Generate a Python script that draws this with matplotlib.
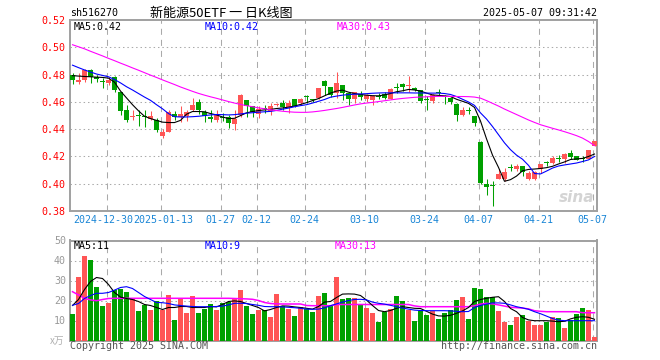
import matplotlib
matplotlib.use('Agg')
import matplotlib.pyplot as plt
import matplotlib.transforms as mtransforms
import numpy as np
import pandas as pd

# trading days shown (exchange holidays dropped)
holidays = ['2025-01-01', '2025-01-28', '2025-01-29', '2025-01-30', '2025-01-31',
            '2025-02-03', '2025-02-04', '2025-04-04', '2025-05-01', '2025-05-02', '2025-05-05']
dates = [d.strftime('%Y-%m-%d') for d in pd.bdate_range('2024-12-20', '2025-05-07')
         if d.strftime('%Y-%m-%d') not in holidays]

tick_dates = ['2024-12-30', '2025-01-13', '2025-01-27', '2025-02-12', '2025-02-24',
              '2025-03-10', '2025-03-24', '2025-04-07', '2025-04-21', '2025-05-07']
tick_labels = ['2024-12-30', '2025-01-13', '01-27', '02-12', '02-24',
               '03-10', '03-24', '04-07', '04-21', '05-07']

opens = [.4800, .4743, .4758, .4837, .4780, .4746, .4737, .4785, .4675, .4543,
         .4489, .4496, .4494, .4474, .4469, .4351, .4383, .4513, .4491, .4499,
         .4543, .4601, .4526, .4493, .4469, .4490, .4488, .4439, .4506, .4616,
         .4572, .4513, .4548, .4535, .4577, .4596, .4562, .4621, .4591, .4637,
         .4621, .4628, .4756, .4709, .4665, .4726, .4665, .4621, .4660, .4625,
         .4615, .4640, .4655, .4623, .4705, .4734, .4714, .4702, .4687, .4623,
         .4604, .4666, .4640, .4630, .4587, .4506, .4540, .4499, .4308, .4000,
         .3984, .4037, .4032, .4114, .4111, .4130, .4032, .4037, .4106, .4151,
         .4150, .4186, .4179, .4224, .4200, .4181, .4185, .4274]
highs = [.4812, .4813, .4842, .4840, .4800, .4777, .4785, .4790, .4675, .4579,
         .4543, .4543, .4540, .4535, .4481, .4400, .4538, .4535, .4570, .4540,
         .4630, .4620, .4543, .4543, .4543, .4516, .4506, .4543, .4655, .4618,
         .4574, .4567, .4579, .4596, .4590, .4616, .4616, .4623, .4626, .4653,
         .4625, .4706, .4758, .4711, .4817, .4728, .4670, .4675, .4680, .4660,
         .4650, .4665, .4670, .4700, .4738, .4740, .4787, .4707, .4690, .4641,
         .4658, .4694, .4650, .4640, .4590, .4563, .4563, .4500, .4310, .4032,
         .4019, .4111, .4119, .4148, .4143, .4131, .4093, .4096, .4148, .4167,
         .4200, .4210, .4224, .4249, .4202, .4200, .4247, .4311]
lows = [.4731, .4731, .4750, .4740, .4745, .4702, .4728, .4674, .4508, .4454,
        .4468, .4427, .4418, .4465, .4376, .4334, .4376, .4465, .4455, .4458,
        .4531, .4513, .4453, .4451, .4451, .4457, .4407, .4395, .4493, .4493,
        .4488, .4481, .4518, .4506, .4567, .4543, .4518, .4562, .4579, .4591,
        .4600, .4621, .4653, .4640, .4628, .4616, .4580, .4596, .4611, .4600,
        .4580, .4620, .4620, .4620, .4667, .4680, .4670, .4680, .4591, .4540,
        .4591, .4653, .4586, .4586, .4464, .4498, .4513, .4422, .4000, .3921,
        .3839, .4032, .4019, .4093, .4093, .4056, .4027, .4027, .4081, .4130,
        .4143, .4156, .4150, .4180, .4175, .4156, .4182, .4274]
closes = [.4758, .4758, .4837, .4785, .4766, .4744, .4758, .4685, .4535, .4469,
          .4499, .4494, .4490, .4494, .4391, .4383, .4523, .4491, .4513, .4523,
          .4579, .4543, .4494, .4474, .4506, .4483, .4444, .4474, .4653, .4567,
          .4525, .4547, .4546, .4572, .4580, .4562, .4596, .4574, .4621, .4635,
          .4612, .4704, .4714, .4653, .4738, .4665, .4620, .4670, .4640, .4650,
          .4645, .4637, .4628, .4697, .4702, .4707, .4717, .4687, .4604, .4616,
          .4653, .4663, .4633, .4598, .4501, .4543, .4536, .4445, .4002, .3978,
          .3980, .4074, .4086, .4112, .4128, .4089, .4081, .4086, .4148, .4149,
          .4187, .4184, .4217, .4193, .4175, .4179, .4247, .4311]

ma5 = [.4793, .4790, .4787, .4785, .4782, .4780, .4775, .4745, .4680, .4630,
       .4580, .4535, .4495, .4478, .4465, .4452, .4449, .4449, .4465, .4510,
       .4530, .4530, .4528, .4515, .4505, .4490, .4478, .4480, .4500, .4520,
       .4530, .4537, .4542, .4545, .4552, .4556, .4562, .4570, .4582, .4595,
       .4610, .4625, .4645, .4665, .4680, .4687, .4672, .4662, .4655, .4650,
       .4646, .4645, .4652, .4662, .4675, .4682, .4692, .4688, .4680, .4665,
       .4652, .4648, .4645, .4640, .4620, .4605, .4590, .4560, .4460, .4330,
       .4210, .4120, .4018, .4030, .4056, .4095, .4105, .4108, .4112, .4118,
       .4128, .4145, .4160, .4178, .4182, .4186, .4200, .4218]
ma10 = [.4870, .4852, .4835, .4820, .4805, .4795, .4785, .4765, .4740, .4712,
        .4688, .4662, .4636, .4612, .4580, .4550, .4515, .4492, .4490, .4490,
        .4492, .4495, .4500, .4505, .4508, .4507, .4505, .4507, .4512, .4518,
        .4521, .4525, .4528, .4531, .4538, .4547, .4555, .4565, .4573, .4580,
        .4592, .4605, .4618, .4635, .4643, .4650, .4654, .4657, .4659, .4661,
        .4664, .4666, .4667, .4667, .4667, .4667, .4667, .4666, .4666, .4665,
        .4665, .4665, .4662, .4655, .4640, .4620, .4600, .4575, .4520, .4475,
        .4420, .4360, .4300, .4250, .4210, .4180, .4135, .4075, .4072, .4093,
        .4115, .4130, .4138, .4145, .4152, .4163, .4175, .4200]
ma30 = [.5020, .5005, .4990, .4972, .4955, .4938, .4920, .4903, .4885, .4868,
        .4850, .4833, .4815, .4797, .4780, .4762, .4745, .4728, .4710, .4694,
        .4678, .4663, .4650, .4638, .4627, .4615, .4603, .4592, .4582, .4573,
        .4565, .4557, .4550, .4543, .4537, .4532, .4528, .4525, .4524, .4524,
        .4527, .4532, .4538, .4545, .4552, .4560, .4569, .4578, .4586, .4592,
        .4597, .4603, .4609, .4615, .4621, .4626, .4630, .4634, .4636, .4638,
        .4640, .4641, .4641, .4641, .4640, .4640, .4639, .4636, .4628, .4610,
        .4590, .4570, .4548, .4528, .4508, .4488, .4468, .4450, .4433, .4420,
        .4407, .4395, .4382, .4368, .4353, .4335, .4310, .4280]

# volume in 万 (10k)
volume = [13.2, 31.8, 42.2, 40.2, 26.7, 17.2, 18.7, 25.2, 25.7, 24.2,
          21.2, 14.7, 17.7, 15.2, 19.7, 15.2, 22.7, 10.2, 20.7, 13.7,
          22.2, 13.7, 15.7, 18.2, 15.2, 18.7, 19.2, 20.7, 25.2, 17.2,
          13.2, 15.2, 15.2, 11.7, 23.2, 17.2, 15.7, 12.2, 16.7, 15.7,
          14.2, 22.2, 23.7, 18.0, 31.8, 20.8, 21.3, 21.3, 18.3, 16.3,
          13.8, 9.3, 14.3, 15.8, 22.3, 19.8, 15.3, 9.8, 14.8, 12.8,
          14.8, 10.8, 13.8, 15.3, 20.3, 21.8, 10.8, 26.3, 25.8, 21.8,
          21.8, 14.8, 9.3, 7.8, 11.8, 12.8, 9.8, 7.8, 7.8, 9.3,
          11.8, 11.3, 6.3, 10.3, 13.3, 16.3, 15.3, 1.8]
vma5 = [17.5, 20.5, 25.5, 29.5, 31.5, 31.0, 28.0, 24.0, 21.7, 21.0,
        20.5, 19.5, 18.0, 17.5, 16.5, 15.5, 16.5, 16.5, 17.0, 17.0,
        16.5, 16.5, 16.5, 17.0, 16.8, 18.0, 19.5, 19.8, 19.5, 18.5,
        17.5, 16.5, 14.8, 15.5, 16.5, 17.3, 17.2, 16.8, 16.5, 16.1,
        15.7, 17.0, 19.2, 19.5, 21.5, 23.2, 23.3, 23.2, 22.5, 20.2,
        17.5, 15.0, 14.4, 15.0, 16.1, 16.9, 16.5, 16.1, 16.0, 14.6,
        13.2, 12.3, 12.2, 12.6, 13.6, 14.8, 16.5, 19.5, 20.5, 21.1,
        21.6, 21.9, 19.5, 16.0, 14.4, 11.5, 10.3, 9.9, 9.9, 9.9,
        9.7, 9.4, 9.6, 10.8, 11.6, 11.9, 11.6, 10.6]
vma10 = [17.6, 18.5, 21.0, 22.5, 23.6, 23.6, 24.0, 25.2, 26.5, 26.9,
         26.0, 24.0, 22.0, 20.5, 19.0, 18.9, 18.5, 17.8, 17.5, 17.2,
         17.0, 16.9, 16.9, 16.9, 17.0, 17.2, 17.8, 18.6, 18.6, 18.5,
         18.0, 17.6, 17.0, 16.9, 16.9, 16.8, 16.6, 16.4, 16.1, 15.7,
         15.6, 15.7, 16.3, 17.4, 18.3, 19.2, 20.0, 20.5, 20.6, 20.3,
         19.2, 18.6, 18.2, 17.6, 16.9, 16.2, 15.7, 15.2, 15.0, 14.9,
         14.9, 14.9, 14.9, 14.8, 14.6, 14.4, 14.5, 16.5, 17.5, 18.2,
         18.8, 18.8, 18.6, 17.8, 16.9, 16.3, 15.6, 14.4, 13.4, 12.2,
         11.0, 10.2, 9.9, 9.9, 9.9, 9.9, 9.9, 9.9]
vma30 = [24.4, 22.8, 21.1, 20.3, 19.9, 20.5, 21.0, 21.1, 21.1, 21.1,
         21.1, 21.1, 21.1, 21.1, 21.1, 21.1, 21.1, 21.1, 21.1, 21.1,
         21.1, 21.1, 21.1, 21.1, 21.1, 21.1, 21.1, 21.0, 20.9, 20.8,
         20.6, 20.0, 19.0, 18.5, 18.3, 18.25, 18.25, 18.25, 18.25, 17.5,
         17.4, 17.4, 17.4, 17.4, 18.0, 18.0, 18.0, 18.0, 18.0, 18.0,
         18.0, 18.0, 18.0, 18.0, 18.0, 18.0, 18.0, 17.3, 16.9, 16.9,
         16.9, 16.9, 16.9, 16.9, 16.9, 16.9, 16.9, 17.4, 18.2, 18.6,
         18.3, 17.8, 17.2, 16.6, 16.4, 16.2, 15.8, 14.9, 14.6, 14.4,
         14.4, 14.4, 14.4, 14.4, 14.4, 13.9, 13.9, 13.9]

price_ticks = [0.38, 0.40, 0.42, 0.44, 0.46, 0.48, 0.50, 0.52]
vol_ticks = [10, 20, 30, 40, 50]

RED = '#ff5555'
GREEN = '#00a000'
GRID = '#aaaaaa'
MONO = 'DejaVu Sans Mono'
FS = 7.2

o = np.array(opens); h = np.array(highs); l = np.array(lows); c = np.array(closes)
x = np.arange(len(dates))
cols = np.where(c >= o, RED, GREEN)
tick_pos = np.array([dates.index(d) for d in tick_dates]) - 0.3

W, H = 660, 360
fig = plt.figure(figsize=(6.6, 3.6), dpi=100)
ax = fig.add_axes([70 / W, (H - 211) / H, 527 / W, 190.8 / H])
axv = fig.add_axes([70 / W, (H - 340.5) / H, 527 / W, 100 / H])

for a in (ax, axv):
    a.set_xlim(-2.5 / 6, -2.5 / 6 + 527 / 6)
    for s in a.spines.values():
        s.set_color('#a0a0a0')
        s.set_linewidth(1.4)
    a.tick_params(length=0)
    for t in tick_pos:
        a.axvline(t, color=GRID, lw=0.75, ls=(0, (5.8, 4.8)), zorder=1)

# price panel
ax.set_ylim(0.38, 0.52)
for p in price_ticks[1:-1]:
    ax.axhline(p, color=GRID, lw=0.75, ls=(0, (1.4, 2.8)), zorder=1)
ax.vlines(x, l, h, colors=cols, lw=0.75, zorder=3)
ax.bar(x, np.maximum(np.abs(c - o), 0.0008), bottom=np.minimum(o, c), width=0.8,
       color=cols, linewidth=0, zorder=4)
ax.plot(x, ma5, color='black', lw=0.8, zorder=5)
ax.plot(x, ma10, color='#0000ff', lw=0.8, zorder=5)
ax.plot(x, ma30, color='#ff00ff', lw=0.8, zorder=5)
ax.set_yticks(price_ticks, ['%.2f' % p for p in price_ticks])
ax.tick_params(axis='y', colors='#ff0000', labelsize=FS, pad=3)
for t in ax.get_yticklabels():
    t.set_family(MONO)

# date labels under the price panel; the first two are nudged apart a little
ax.set_xticks([])
xlab = mtransforms.blended_transform_factory(ax.transData, ax.transAxes)
nudge = [-3, 3] + [0] * (len(tick_labels) - 2)
for pos, lab, dx in zip(tick_pos, tick_labels, nudge):
    ax.text(pos, -9 / 190.8, lab, ha='center', va='center', family=MONO, fontsize=FS,
            color='#1a86d6', clip_on=False,
            transform=xlab + mtransforms.ScaledTranslation(dx / 100, 0, fig.dpi_scale_trans))

ax.text(0.995, 0.03, 'sina', transform=ax.transAxes, ha='right', va='bottom', fontsize=11,
        style='italic', weight='bold', color='#d4d4d4', zorder=2)

# volume panel
axv.set_ylim(0, 50)
for v in vol_ticks[:-1]:
    axv.axhline(v, color=GRID, lw=0.75, ls=(0, (1.4, 2.8)), zorder=1)
axv.bar(x, volume, width=0.82, color=cols, linewidth=0, zorder=3)
axv.plot(x, vma5, color='black', lw=0.8, zorder=5)
axv.plot(x, vma10, color='#0000ff', lw=0.8, zorder=5)
axv.plot(x, vma30, color='#ff00ff', lw=1.1, zorder=4)
axv.set_yticks(vol_ticks, [str(v) for v in vol_ticks])
axv.set_xticks([])
axv.tick_params(axis='y', colors='#999999', labelsize=FS, pad=3)
for t in axv.get_yticklabels():
    t.set_family(MONO)


def ftext(px, py, s, **kw):
    fig.text(px / W, 1 - py / H, s, va='center', **kw)


ftext(70, 13, 'sh516270', family=MONO, fontsize=FS, color='black')
ftext(150, 13, '新能源50ETF 一 日K线图', family=['Noto Sans CJK SC', 'DejaVu Sans'],
      fontsize=9.4, color='black')
ftext(597, 13, '2025-05-07 09:31:42', family=MONO, fontsize=FS, color='black', ha='right')

ftext(74, 27, 'MA5:%.2f' % ma5[-1], family=MONO, fontsize=FS, color='black')
ftext(205, 27, 'MA10:%.2f' % ma10[-1], family=MONO, fontsize=FS, color='#0000ff')
ftext(337, 27, 'MA30:%.2f' % ma30[-1], family=MONO, fontsize=FS, color='#ff00ff')

ftext(74, 246, 'MA5:%d' % round(vma5[-1]), family=MONO, fontsize=FS, color='black')
ftext(205, 246, 'MA10:%d' % int(vma10[-1]), family=MONO, fontsize=FS, color='#0000ff')
ftext(335, 246, 'MA30:%d' % int(vma30[-1]), family=MONO, fontsize=FS, color='#ff00ff')

ftext(64, 341, 'x万', family=['Noto Sans CJK SC', 'DejaVu Sans'], fontsize=7,
      color='#b0b0b0', ha='right', style='italic')
ftext(70, 346, 'Copyright 2025 SINA.COM', family=MONO, fontsize=FS, color='#555555')
ftext(597, 346, 'http://finance.sina.com.cn', family=MONO, fontsize=FS, color='#555555',
      ha='right')

fig.savefig('out.png', dpi=100, facecolor='white')
